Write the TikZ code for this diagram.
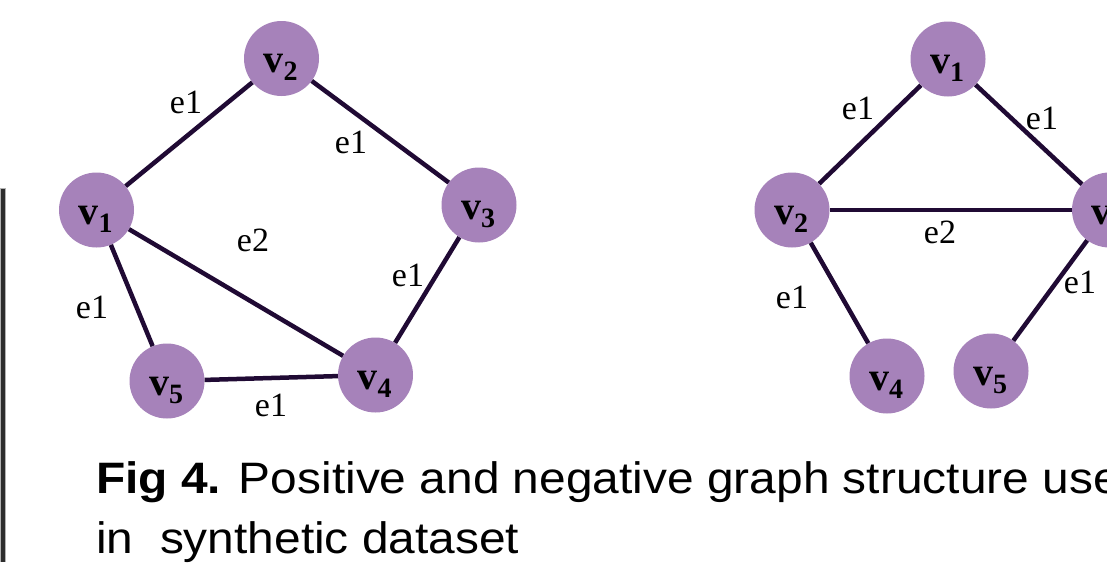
\documentclass[tikz,border=0pt]{standalone}
\usepackage{fontspec}
\setmainfont{Liberation Serif}
\newfontfamily\capfont{Liberation Sans}
\definecolor{vfill}{RGB}{166,130,186}
\definecolor{edgec}{RGB}{32,10,52}
\definecolor{barc}{RGB}{45,45,45}
\newcommand{\vlabel}[1]{{\fontsize{40}{40}\selectfont\bfseries v\raisebox{-8pt}{\fontsize{28}{28}\selectfont\bfseries #1}}}
\tikzset{
  vtx/.style={circle, fill=vfill, minimum size=75pt, inner sep=0pt},
  vtxlab/.style={inner sep=0pt, xshift=-1pt, yshift=-9pt},
  edge/.style={draw=edgec, line width=4.5pt},
  elab/.style={inner sep=0pt, font=\fontsize{34}{34}\selectfont},
  captext/.style={inner sep=0pt, anchor=base west, font=\capfont\fontsize{44}{44}\selectfont, xscale=1.088, transform shape}
}
\begin{document}
\begin{tikzpicture}[x=1pt,y=-1pt]
\useasboundingbox (0,0) rectangle (1107,562);
\clip (0,0) rectangle (1107,562);
\fill[white] (0,0) rectangle (1107,562);
% left bar
\fill[gray!60] (0,188) rectangle (6,562);
\fill[barc] (0.5,189) rectangle (4.5,562);
% left graph
\node[vtx] (a1) at (96.5,210) {};
\node[vtx] (a2) at (281.5,58.5) {};
\node[vtx] (a3) at (479,205) {};
\node[vtx] (a4) at (375.5,375) {};
\node[vtx] (a5) at (167,381) {};
\node[vtxlab] (a1l) at (a1.center) {\vlabel{1}};
\node[vtxlab] (a2l) at (a2.center) {\vlabel{2}};
\node[vtxlab] (a3l) at (a3.center) {\vlabel{3}};
\node[vtxlab] (a4l) at (a4.center) {\vlabel{4}};
\node[vtxlab] (a5l) at (a5.center) {\vlabel{5}};
\draw[edge] (a1) -- (a2);
\draw[edge] (a2) -- (a3);
\draw[edge] (a1) -- (a5);
\draw[edge] (a1) -- (a4);
\draw[edge] (a3) -- (a4);
\draw[edge] (a5) -- (a4);
\node[elab] (ae12) at (186,102) {e1};
\node[elab] (ae23) at (351,142) {e1};
\node[elab] (ae14) at (253,240) {e2};
\node[elab] (ae34) at (408,275) {e1};
\node[elab] (ae15) at (92,307) {e1};
\node[elab] (ae54) at (271,405) {e1};
% right graph
\node[vtx] (b1) at (948,59) {};
\node[vtx] (b2) at (792,210) {};
\node[vtx] (b3) at (1109.5,210) {};
\node[vtx] (b4) at (887,376) {};
\node[vtx] (b5) at (991,371) {};
\node[vtxlab] (b1l) at (b1.center) {\vlabel{1}};
\node[vtxlab] (b2l) at (b2.center) {\vlabel{2}};
\node[vtxlab] (b3l) at (b3.center) {\vlabel{3}};
\node[vtxlab] (b4l) at (b4.center) {\vlabel{4}};
\node[vtxlab] (b5l) at (b5.center) {\vlabel{5}};
\draw[edge] (b1) -- (b2);
\draw[edge] (b1) -- (b3);
\draw[edge] (b2) -- (b3);
\draw[edge] (b2) -- (b4);
\draw[edge] (b3) -- (b5);
\node[elab] (be12) at (858,108) {e1};
\node[elab] (be13) at (1042,118) {e1};
\node[elab] (be23) at (940,232) {e2};
\node[elab] (be24) at (792,297) {e1};
\node[elab] (be35) at (1080,282) {e1};
% caption
\node[captext] (cap1) at (96,493.5) {\textbf{Fig 4.} Positive and negative graph structure used};
\node[captext] (cap2) at (96,553) {in\ \ synthetic dataset};
\end{tikzpicture}
\end{document}
